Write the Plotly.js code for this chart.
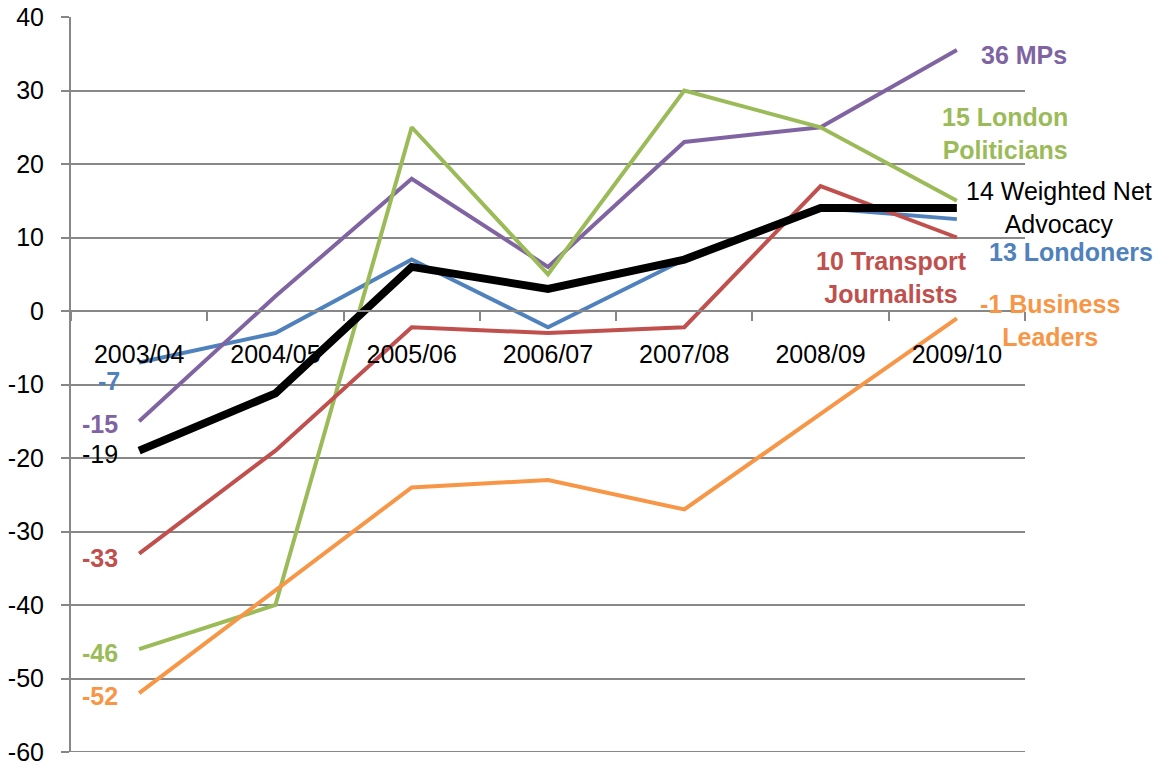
<!DOCTYPE html>
<html>
<head>
<meta charset="utf-8">
<script src="https://cdn.plot.ly/plotly-3.0.1.min.js"></script>
<style>
  html, body { margin: 0; padding: 0; background: #fff; }
  #chart { width: 1164px; height: 766px; }
</style>
</head>
<body>
<div id="chart"></div>
<script>
// ---- data ----
const categories = ["2003/04", "2004/05", "2005/06", "2006/07", "2007/08", "2008/09", "2009/10"];
const londoners = [-7, -3, 7, -2.2, 7, 14, 12.5];
const mps = [-15, 2, 18, 6, 23, 25, 35.5];
const londonPoliticians = [-46, -40, 25, 5, 30, 25, 15];
const transportJournalists = [-33, -19, -2.2, -3, -2.2, 17, 10];
const businessLeaders = [-52, -38, -24, -23, -27, -14, -1];
const weightedNetAdvocacy = [-19, -11.2, 6, 3, 7, 14, 14];
const yTicks = [-60, -50, -40, -30, -20, -10, 0, 10, 20, 30, 40];

// ---- styles ----
const FONT = "Liberation Sans, Arial, sans-serif";
const FS = 25;
const GRID = "#878787";

const series = [
  { name: "Londoners", label: "Londoners", y: londoners, color: "#4F81BD", width: 4, bold: true,
    left: { xshift: -17, yshift: -19 }, right: { xanchor: "left", xshift: 30, yshift: -33 } },
  { name: "MPs", label: "MPs", y: mps, color: "#8064A2", width: 4, bold: true,
    left: { xshift: -19, yshift: -3 }, right: { xanchor: "left", xshift: 22, yshift: -5 } },
  { name: "London Politicians", label: "London<br>Politicians", y: londonPoliticians, color: "#9BBB59", width: 4, bold: true,
    left: { xshift: -19, yshift: -4 }, right: { xanchor: "center", xshift: 48, yshift: 67 } },
  { name: "Transport Journalists", label: "Transport<br>Journalists", y: transportJournalists, color: "#C0504D", width: 4, bold: true,
    left: { xshift: -19, yshift: -4 }, right: { xanchor: "center", xshift: -65, yshift: -40 } },
  { name: "Business Leaders", label: "Business<br>Leaders", y: businessLeaders, color: "#F79646", width: 4, bold: true,
    left: { xshift: -19, yshift: -3 }, right: { xanchor: "center", xshift: 93, yshift: -2 } },
  { name: "Weighted Net Advocacy", label: "Weighted Net<br>Advocacy", y: weightedNetAdvocacy, color: "#000000", width: 8, bold: false,
    left: { xshift: -19, yshift: -3 }, right: { xanchor: "left", xshift: 7, yshift: 1 } }
];

const traces = series.map(s => ({
  type: "scatter", mode: "lines", name: s.name,
  x: categories, y: s.y,
  line: { color: s.color, width: s.width },
  hoverinfo: "x+y+name"
}));

const annotations = [];
series.forEach(s => {
  const first = s.y[0], last = s.y[s.y.length - 1];
  const fmt = v => String(Math.round(v));
  const wrap = t => s.bold ? "<b>" + t + "</b>" : t;
  const lbl = s.label.split("<br>");
  const rightText = [fmt(last) + " " + lbl[0]].concat(lbl.slice(1)).map(wrap).join("<br>");
  annotations.push({
    x: categories[0], y: first, xref: "x", yref: "y",
    text: wrap(fmt(first)), showarrow: false,
    xanchor: "right", yanchor: "middle",
    xshift: s.left.xshift, yshift: s.left.yshift,
    font: { family: FONT, size: FS, color: s.color }
  });
  annotations.push({
    x: categories[categories.length - 1], y: last, xref: "x", yref: "y",
    text: rightText, showarrow: false, align: "center",
    xanchor: s.right.xanchor, yanchor: "middle",
    xshift: s.right.xshift, yshift: s.right.yshift,
    font: { family: FONT, size: FS, color: s.color }
  });
});

const layout = {
  width: 1164, height: 766,
  margin: { l: 71, r: 139, t: 17, b: 14, pad: 0 },
  paper_bgcolor: "#ffffff", plot_bgcolor: "#ffffff",
  showlegend: false,
  font: { family: FONT, size: FS, color: "#000" },
  xaxis: {
    type: "category", categoryorder: "array", categoryarray: categories,
    range: [-0.5, 6.5],
    anchor: "free", position: 0.6,
    showline: true, linecolor: GRID, linewidth: 2,
    showgrid: false, zeroline: false,
    ticks: "outside", tickson: "boundaries", ticklen: 9, tickwidth: 2, tickcolor: GRID,
    ticklabelstandoff: 21,
    tickfont: { family: FONT, size: FS, color: "#000" },
    fixedrange: true
  },
  yaxis: {
    range: [-60, 40],
    tickmode: "array", tickvals: yTicks, ticktext: yTicks.map(String),
    showline: true, linecolor: GRID, linewidth: 2,
    showgrid: true, gridcolor: GRID, gridwidth: 2,
    zeroline: false,
    ticks: "outside", ticklen: 8, tickwidth: 2, tickcolor: GRID,
    ticklabelstandoff: 12,
    tickfont: { family: FONT, size: FS, color: "#000" },
    fixedrange: true
  },
  shapes: [
    { type: "line", xref: "paper", yref: "y", x0: 0, x1: 1, y0: yTicks[0], y1: yTicks[0],
      line: { color: GRID, width: 2 }, layer: "below" }
  ],
  annotations: annotations
};

Plotly.newPlot("chart", traces, layout, { displayModeBar: false, staticPlot: true });
</script>
</body>
</html>
